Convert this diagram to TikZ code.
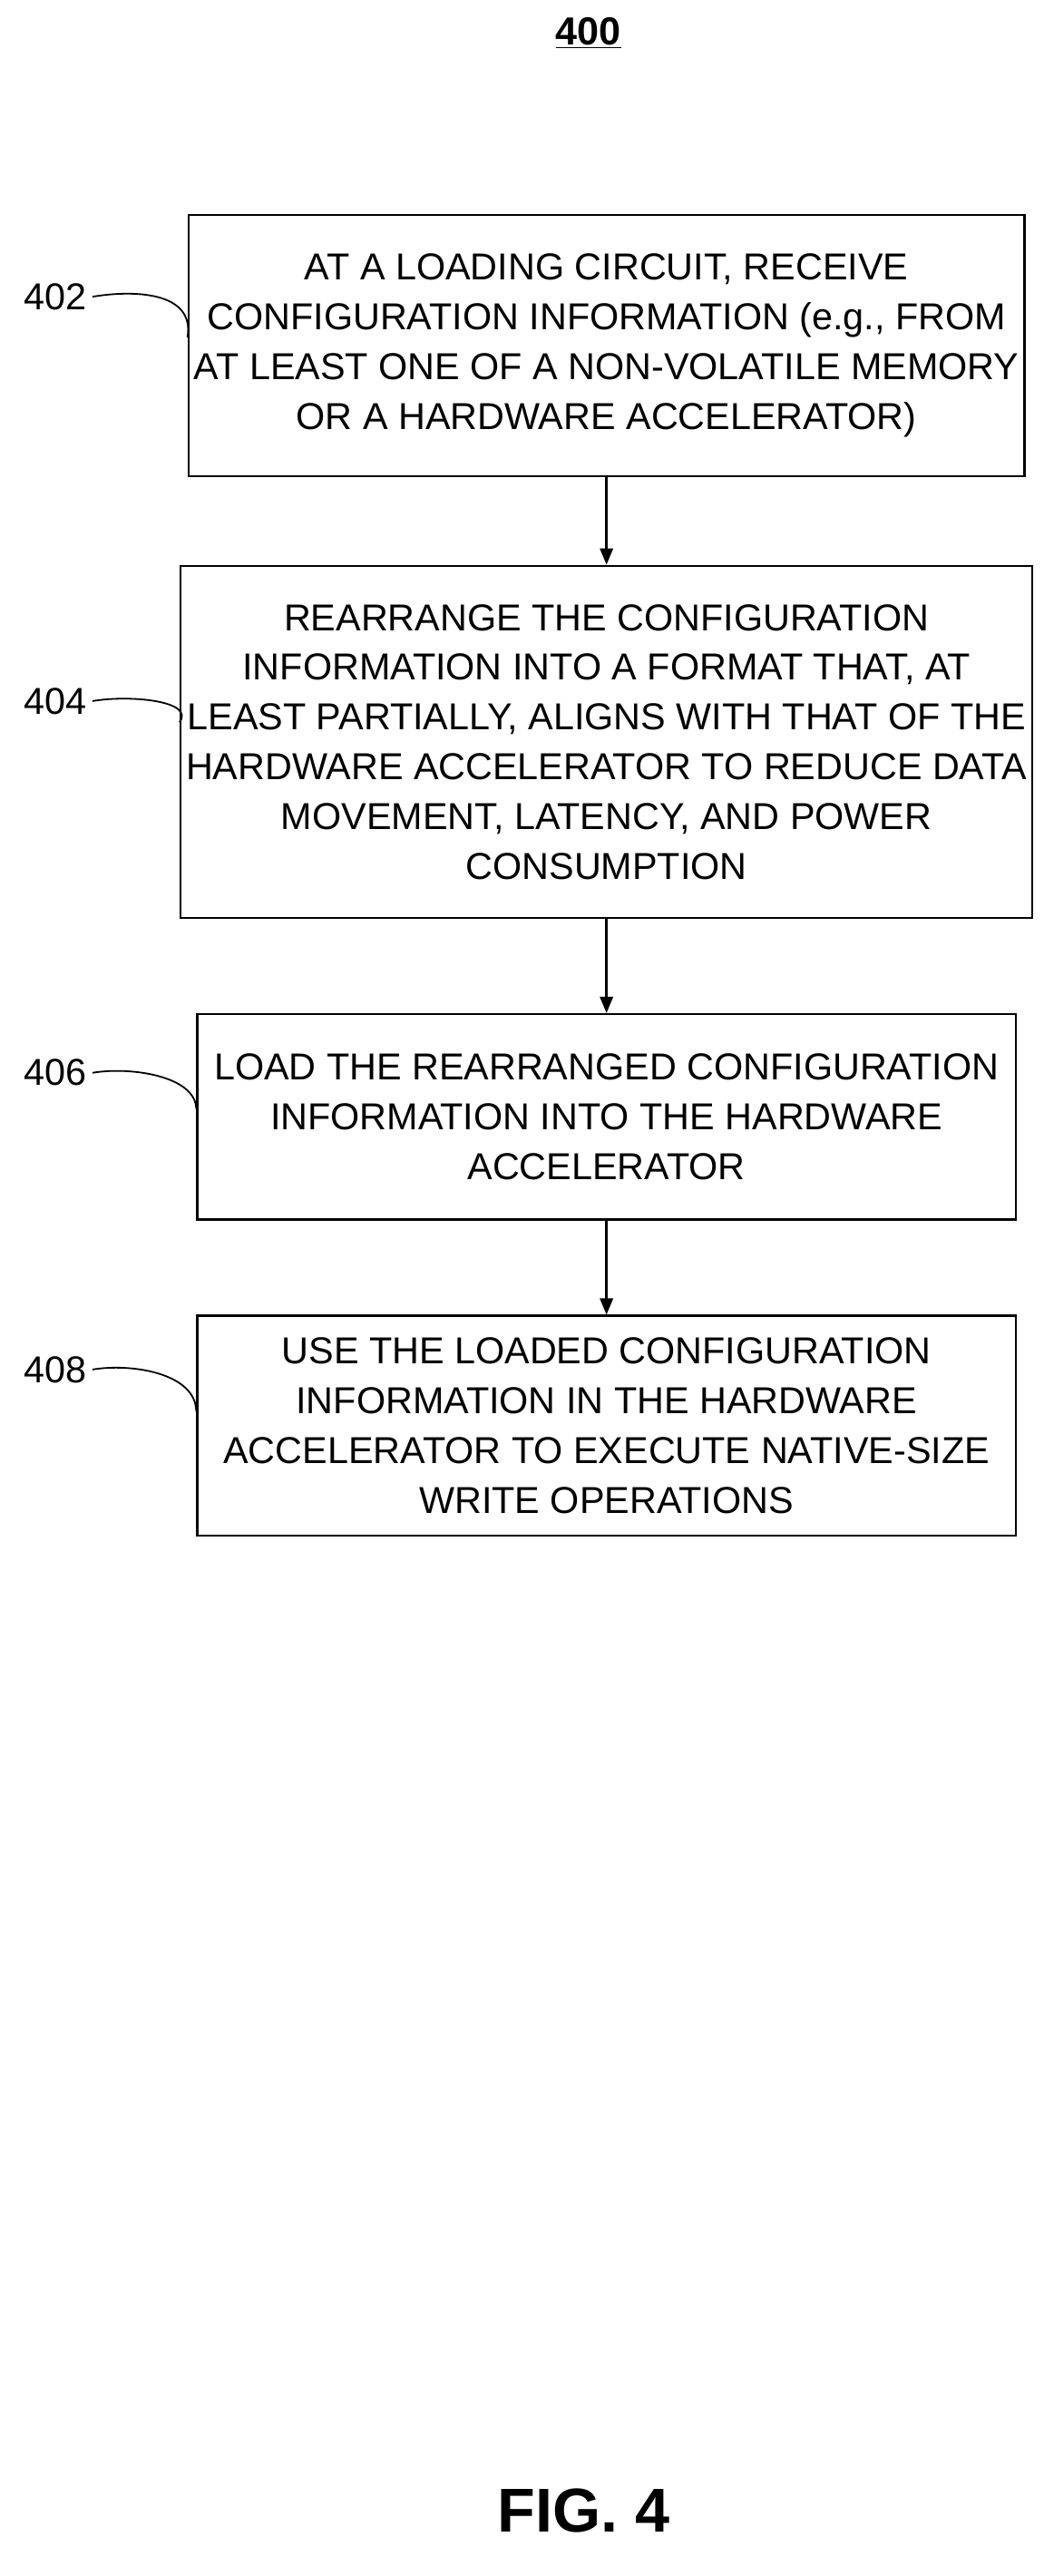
\documentclass[tikz,border=0pt]{standalone}
\usepackage{fontspec}
\setmainfont{Liberation Sans}
\usetikzlibrary{arrows.meta}
\usetikzlibrary{positioning}
\begin{document}
\begin{tikzpicture}[x=1pt,y=-1pt]
\tikzset{
  stepBox/.style={
    draw,
    line width=1.3pt,
    minimum width=502pt,
    align=center,
    font=\fontsize{23}{30.5}\selectfont
    },
  refLabel/.style={
    font=\fontsize{23}{28}\selectfont
    },
  flowArrow/.style={->, line width=1.3pt, >={Triangle[length=10pt,width=8pt]}}
}
\useasboundingbox (0,0) rectangle (640,1580);

    \node (T) at (361,20) {\bfseries\fontsize{24}{28}\selectfont\underline{400}};

    \node (S1)[stepBox, minimum height=160pt] at (372,212) {AT A LOADING CIRCUIT, RECEIVE\\CONFIGURATION INFORMATION (e.g., FROM\\AT LEAST ONE OF A NON-VOLATILE MEMORY\\OR A HARDWARE ACCELERATOR)};
    \node (S2)[stepBox, minimum height=216pt] at (372,455) {REARRANGE THE CONFIGURATION\\INFORMATION INTO A FORMAT THAT, AT\\LEAST PARTIALLY, ALIGNS WITH THAT OF THE\\HARDWARE ACCELERATOR TO REDUCE DATA\\MOVEMENT, LATENCY, AND POWER\\CONSUMPTION};
    \node (S3)[stepBox, minimum height=126pt] at (372,685) {LOAD THE REARRANGED CONFIGURATION\\INFORMATION INTO THE HARDWARE\\ACCELERATOR};
    \node (S4)[stepBox, minimum height=135pt] at (372,874.5) {USE THE LOADED CONFIGURATION\\INFORMATION IN THE HARDWARE\\ACCELERATOR TO EXECUTE NATIVE-SIZE\\WRITE OPERATIONS};

    \draw[flowArrow] (S1) -- (S2);
    \draw[flowArrow] (S2) -- (S3);
    \draw[flowArrow] (S3) -- (S4);

    \node (L1)[refLabel] at (34,182) {402};
    \node (L2)[refLabel] at (34,430) {404};
    \node (L3)[refLabel] at (34,658) {406};
    \node (L4)[refLabel] at (34,840) {408};

    \draw[line width=1pt] (L1.east) .. controls (80,178) and (120,178) .. ([yshift=5pt]S1.west);
    \draw[line width=1pt] (L2.east) .. controls (80,426) and (120,430) .. ([yshift=12pt]S2.west);
    \draw[line width=1pt] (L3.east) .. controls (80,654) and (120,660) .. ([yshift=5pt]S3.west);
    \draw[line width=1pt] (L4.east) .. controls (80,836) and (120,842) .. ([yshift=9pt]S4.west);

    \node (F) at (358,1540) {\bfseries\fontsize{38}{44}\selectfont FIG. 4};
\end{tikzpicture}
\end{document}
